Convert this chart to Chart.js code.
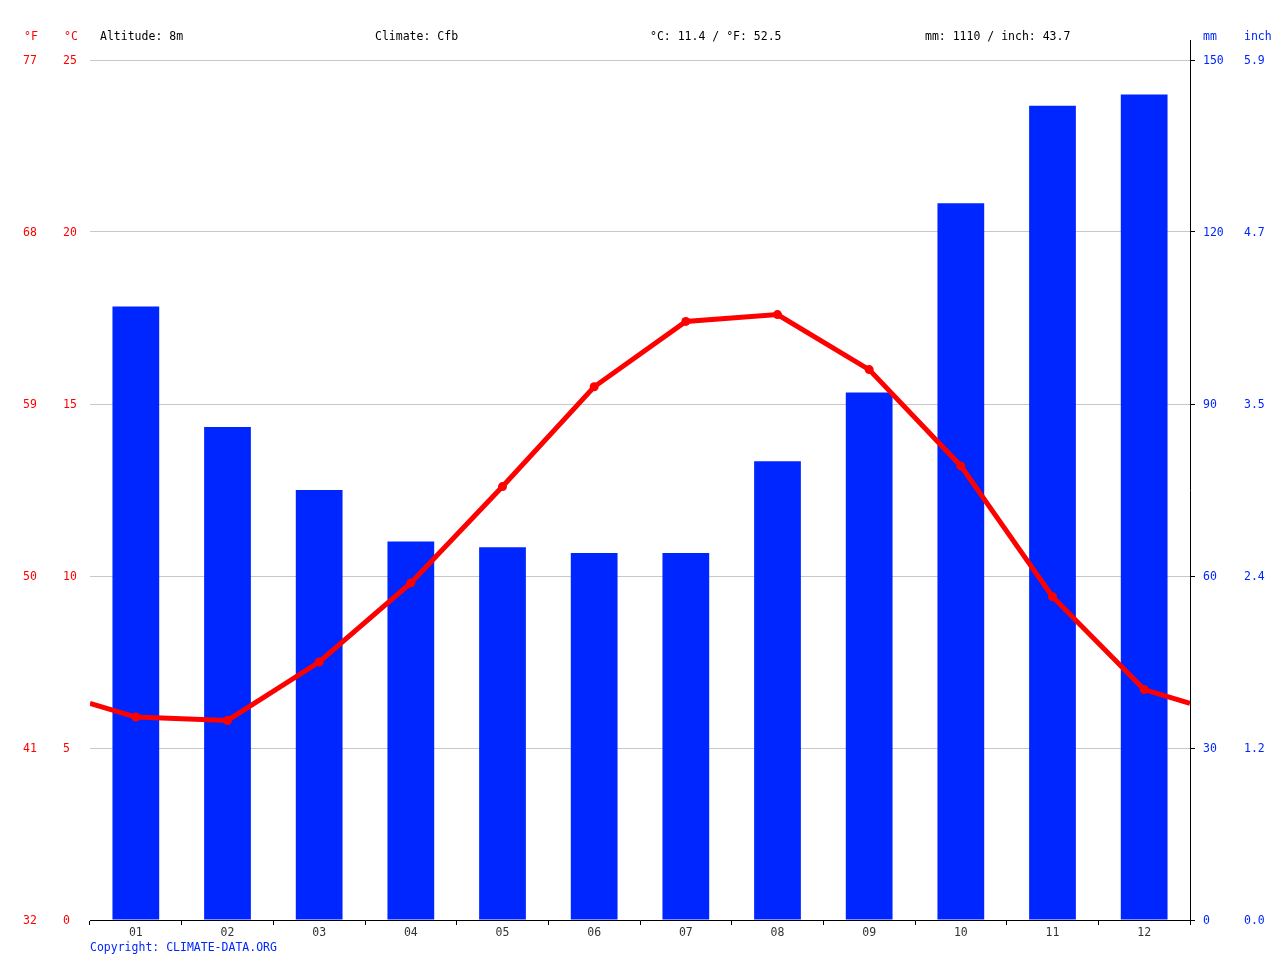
<!DOCTYPE html>
<html><head><meta charset="utf-8">
<script src="https://cdn.jsdelivr.net/npm/chart.js@4/dist/chart.umd.min.js"></script>
<style>html,body{margin:0;padding:0;background:#fff}#wrap{width:1280px;height:960px}</style>
</head><body><div id="wrap"><canvas id="c" width="1280" height="960"></canvas></div>
<script>
const months = ['01','02','03','04','05','06','07','08','09','10','11','12'];
const precipMM = [107, 86, 75, 66, 65, 64, 64, 80, 92, 125, 142, 144];
const tempC = [5.9, 5.8, 7.5, 9.8, 12.6, 15.5, 17.4, 17.6, 16.0, 13.2, 9.4, 6.7];
const headerTexts = ['Altitude: 8m', 'Climate: Cfb', '°C: 11.4 / °F: 52.5', 'mm: 1110 / inch: 43.7'];
const copyrightText = 'Copyright: CLIMATE-DATA.ORG';

const FONT = "'DejaVu Sans Mono', monospace";
const FS = 11.5;
const RED = '#ff0000';
const BLUE = '#0026ff';

// line points: wrap-around edges from Dec/Jan average
const edge = (tempC[0] + tempC[11]) / 2;
const linePts = [{x: 0, y: edge}].concat(tempC.map((t, i) => ({x: i + 0.5, y: t}))).concat([{x: 12, y: edge}]);
const radii = linePts.map((p, i) => (i === 0 || i === linePts.length - 1) ? 0 : 4.5);

const overlay = {
  id: 'overlay',
  afterDraw(chart) {
    const ctx = chart.ctx;
    const ca = chart.chartArea;
    ctx.save();
    ctx.font = FS + 'px ' + FONT;
    ctx.textBaseline = 'middle';
    ctx.textAlign = 'left';
    ctx.fillStyle = RED;
    ctx.fillText('°F', chart.scales.yF.left + 1, 37);
    ctx.fillText('°C', chart.scales.yC.left + 1, 37);
    ctx.fillStyle = BLUE;
    ctx.fillText('mm', chart.scales.yMM.left + 13, 37);
    ctx.fillText('inch', chart.scales.yIn.left, 37);
    ctx.fillStyle = '#000';
    headerTexts.forEach((t, i) => ctx.fillText(t, ca.left + 10 + i * 275, 37));
    ctx.fillStyle = BLUE;
    ctx.fillText(copyrightText, ca.left, 948);
    // extend right axis line above chart area
    ctx.strokeStyle = '#000';
    ctx.lineWidth = 1;
    ctx.beginPath();
    ctx.moveTo(Math.round(ca.right) + 0.5, 40);
    ctx.lineTo(Math.round(ca.right) + 0.5, ca.top);
    ctx.stroke();
    ctx.restore();
  }
};

new Chart(document.getElementById('c'), {
  data: {
    labels: months,
    datasets: [
      {
        type: 'line', label: 'Temperature', data: linePts,
        xAxisID: 'xl', yAxisID: 'yC',
        borderColor: RED, backgroundColor: RED, borderWidth: 5,
        pointRadius: radii, pointHoverRadius: radii, pointBackgroundColor: RED, pointBorderWidth: 0,
        tension: 0, order: 0
      },
      {
        type: 'bar', label: 'Precipitation', data: precipMM,
        xAxisID: 'x', yAxisID: 'yMM', grouped: false,
        backgroundColor: BLUE, borderWidth: 0,
        barPercentage: 0.51, categoryPercentage: 1, order: 1
      }
    ]
  },
  options: {
    responsive: false, animation: false,
    layout: {padding: {left: 23, right: 0, top: 60, bottom: 0}},
    plugins: {legend: {display: false}, tooltip: {enabled: false}},
    scales: {
      x: {
        type: 'category', position: 'bottom', offset: true,
        grid: {display: true, drawOnChartArea: false, offset: true, drawTicks: true, tickLength: 5, color: '#000'},
        border: {display: true, color: '#000'},
        ticks: {color: '#333', font: {family: FONT, size: FS}, padding: 1, maxRotation: 0, autoSkip: false},
        afterFit(s) { s.height = 40; }
      },
      xl: {type: 'linear', display: false, min: 0, max: 12},
      yC: {
        position: 'left', weight: 0, min: 0, max: 25,
        ticks: {stepSize: 5, color: RED, font: {family: FONT, size: FS}, crossAlign: 'far', padding: 0, labelOffset: 1},
        grid: {color: '#c8c8c8', drawTicks: false},
        border: {display: false},
        afterFit(s) { s.width = 27; }
      },
      yF: {
        position: 'left', weight: 1, min: 0, max: 25,
        ticks: {stepSize: 5, color: RED, font: {family: FONT, size: FS}, crossAlign: 'far', padding: 0, labelOffset: 1,
          callback: v => String(Math.round(v * 9 / 5 + 32))},
        grid: {display: false}, border: {display: false},
        afterFit(s) { s.width = 40; }
      },
      yMM: {
        position: 'right', weight: 0, min: 0, max: 150,
        ticks: {stepSize: 30, color: BLUE, font: {family: FONT, size: FS}, padding: 8, labelOffset: 1},
        grid: {drawOnChartArea: false, drawTicks: true, tickLength: 5, color: '#000'},
        border: {display: true, color: '#000'},
        afterFit(s) { s.width = 54; }
      },
      yIn: {
        position: 'right', weight: 1, min: 0, max: 150,
        ticks: {stepSize: 30, color: BLUE, font: {family: FONT, size: FS}, padding: 0, labelOffset: 1,
          callback: v => (v / 25.4).toFixed(1)},
        grid: {display: false, drawTicks: false}, border: {display: false},
        afterFit(s) { s.width = 36; }
      }
    }
  },
  plugins: [overlay]
});
</script></body></html>
